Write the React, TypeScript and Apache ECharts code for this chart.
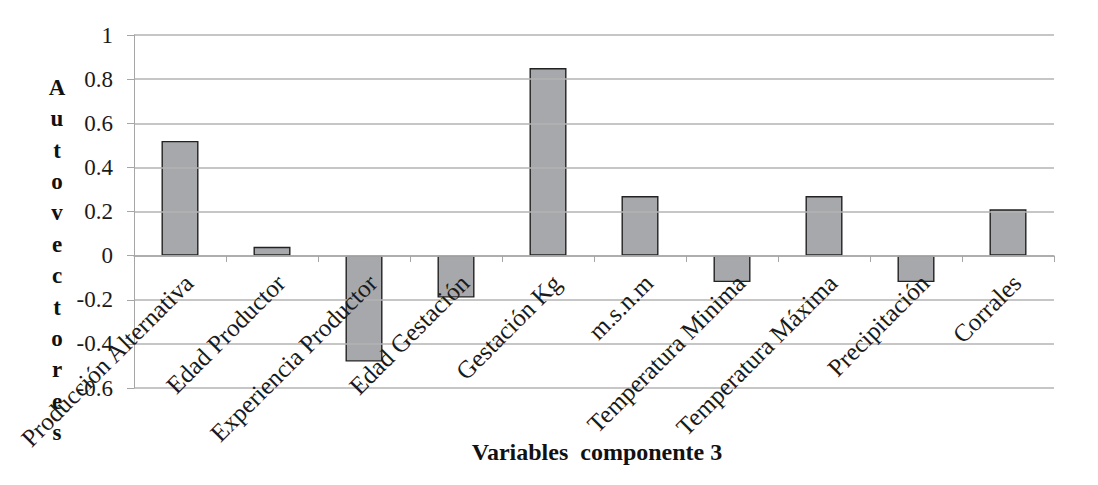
import React, { useEffect, useRef } from "react";
import * as echarts from "echarts";

const categories = [
  "Producción Alternativa",
  "Edad Productor",
  "Experiencia Productor",
  "Edad Gestación",
  "Gestación Kg",
  "m.s.n.m",
  "Temperatura Minima",
  "Temperatura Máxima",
  "Precipitación",
  "Corrales",
];
const values = [0.52, 0.04, -0.48, -0.19, 0.85, 0.27, -0.12, 0.27, -0.12, 0.21];
const yAxisTitle = "Autovectores";
const xAxisTitle = "Variables  componente 3";

const FONT = "Liberation Serif, Times New Roman, serif";

export default function App() {
  const ref = useRef<HTMLDivElement>(null);
  useEffect(() => {
    if (!ref.current) return;
    const chart = echarts.init(ref.current, undefined, { renderer: "svg" });
    chart.setOption({
      animation: false,
      backgroundColor: "#ffffff",
      grid: { left: 134, right: 44, top: 35, bottom: 97, containLabel: false },
      xAxis: {
        type: "category",
        data: categories,
        offset: -132,
        z: 10,
        axisLine: { onZero: false, lineStyle: { color: "#a6a6a6", width: 1.5 } },
        axisTick: { show: true, length: 6, lineStyle: { color: "#a6a6a6" } },
        axisLabel: {
          interval: 0,
          rotate: 45,
          margin: 14,
          align: "right",
          verticalAlign: "top",
          color: "#1a1a1a",
          fontFamily: FONT,
          fontSize: 25,
        },
        splitLine: { show: false },
      },
      yAxis: {
        type: "value",
        min: -0.6,
        max: 1,
        interval: 0.2,
        z: 10,
        axisLine: { show: true, lineStyle: { color: "#a6a6a6", width: 1 } },
        axisTick: { show: true, length: 7, lineStyle: { color: "#a6a6a6" } },
        axisLabel: {
          margin: 21,
          color: "#1a1a1a",
          fontFamily: FONT,
          fontSize: 23,
          formatter: (v: number) => {
            const r = Math.round(v * 10) / 10;
            return String(r);
          },
        },
        splitLine: { show: true, lineStyle: { color: "#b3b3b3", width: 1.5 } },
      },
      series: [
        {
          type: "bar",
          data: values,
          barWidth: 37,
          z: 2,
          itemStyle: { color: "#a6a8ab", borderColor: "#222222", borderWidth: 1.4 },
        },
      ],
      graphic: [
        {
          type: "text",
          x: 57,
          y: 260,
          z: 100,
          style: {
            text: yAxisTitle.split("").join("\n"),
            fontFamily: FONT,
            fontSize: 23,
            fontWeight: "bold",
            lineHeight: 31.4,
            fill: "#111111",
            align: "center",
            verticalAlign: "middle",
          },
        },
        {
          type: "text",
          x: 597,
          y: 452,
          style: {
            text: xAxisTitle,
            fontFamily: FONT,
            fontSize: 24,
            fontWeight: "bold",
            fill: "#111111",
            align: "center",
            verticalAlign: "middle",
          },
        },
      ],
    });
    return () => chart.dispose();
  }, []);
  return (
    <div
      ref={ref}
      style={{ position: "absolute", left: 0, top: 0, width: 1098, height: 485 }}
    />
  );
}
